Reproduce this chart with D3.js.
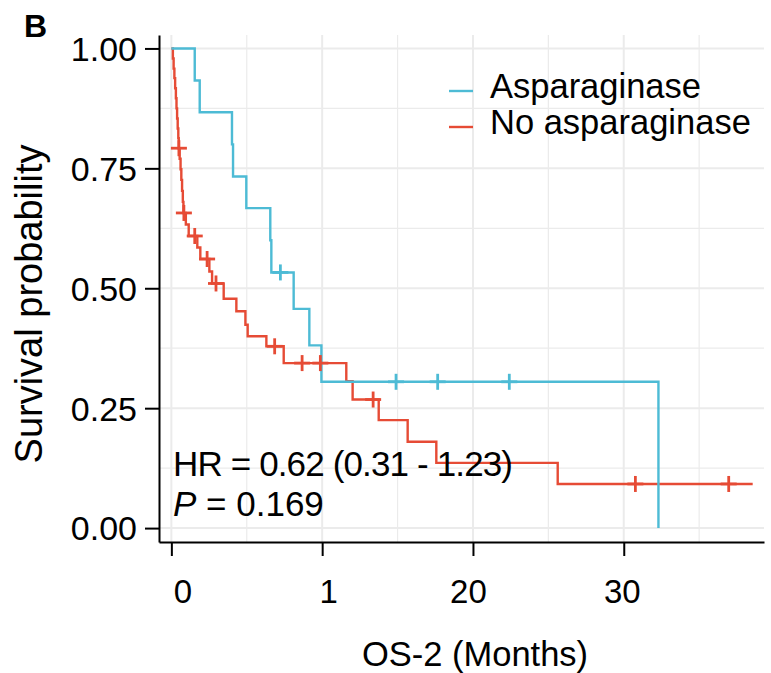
<!DOCTYPE html>
<html>
<head>
<meta charset="utf-8">
<script src="https://cdn.jsdelivr.net/npm/d3@7"></script>
<style>
  body { margin: 0; background: #fff; }
  svg text { font-family: "Liberation Sans", Arial, sans-serif; fill: #000; }
</style>
</head>
<body>
<svg id="chart" width="771" height="673"></svg>
<script>
// Asparaginase: step points (time in months, survival)
const asnTime = [0, 1.55, 1.88, 4.02, 4.09, 4.97, 6.56, 6.63, 8.11, 9.15, 9.95, 32.3];
const asnSurv = [1, 0.933, 0.867, 0.8, 0.733, 0.667, 0.6, 0.533, 0.457, 0.381, 0.305, 0];
const asnCensorTime = [7.23, 14.9, 17.66, 22.41];
const asnCensorSurv = [0.533, 0.305, 0.305, 0.305];

// No asparaginase
const noTime = [0, 0.10, 0.15, 0.20, 0.25, 0.30, 0.34, 0.38, 0.42, 0.46, 0.49,
  0.55, 0.61, 0.66, 0.71, 0.76, 0.80, 0.96, 1.15, 1.72, 1.92, 2.52, 2.70,
  3.47, 4.31, 4.91, 5.06, 6.30, 7.45, 11.6, 12.02, 13.75, 15.67, 17.57, 25.62, 38.55];
const noSurv = [1, 0.979, 0.958, 0.938, 0.917, 0.896, 0.875, 0.854, 0.833, 0.813, 0.792,
  0.770, 0.748, 0.726, 0.703, 0.680, 0.657, 0.633, 0.609, 0.585, 0.561, 0.535, 0.510,
  0.478, 0.452, 0.424, 0.400, 0.379, 0.344, 0.306, 0.268, 0.225, 0.180, 0.136, 0.092, 0.092];
const noCensorTime = [0.50, 0.83, 1.55, 2.37, 2.96, 6.85, 8.67, 9.88, 13.38, 30.77, 36.96];
const noCensorSurv = [0.792, 0.657, 0.609, 0.561, 0.510, 0.379, 0.344, 0.344, 0.268, 0.092, 0.092];

const groups = ["Asparaginase", "No asparaginase"];
const xTicks = [0, 10, 20, 30];
const xTickLabels = ["0", "1", "20", "30"];
const yTicks = [0, 0.25, 0.5, 0.75, 1];

const blue = "#4DBBD5", red = "#E64B35";

const svg = d3.select("#chart");
const panel = { left: 159, right: 764, top: 35, bottom: 542 };

const x = d3.scaleLinear().domain([-0.82, 39.3]).range([panel.left, panel.right]);
const y = d3.scaleLinear().domain([-0.029, 1.028]).range([panel.bottom, panel.top]);

// grid
const grid = svg.append("g").attr("stroke", "#EBEBEB");
d3.range(5, 40, 10).forEach(t => grid.append("line")
  .attr("x1", x(t)).attr("x2", x(t)).attr("y1", panel.top).attr("y2", panel.bottom)
  .attr("stroke-width", 1.2));
d3.range(0.125, 1, 0.25).forEach(s => grid.append("line")
  .attr("x1", panel.left).attr("x2", panel.right).attr("y1", y(s)).attr("y2", y(s))
  .attr("stroke-width", 1.2));
xTicks.forEach(t => grid.append("line")
  .attr("x1", x(t)).attr("x2", x(t)).attr("y1", panel.top).attr("y2", panel.bottom)
  .attr("stroke-width", 2));
yTicks.forEach(s => grid.append("line")
  .attr("x1", panel.left).attr("x2", panel.right).attr("y1", y(s)).attr("y2", y(s))
  .attr("stroke-width", 2));

// curves
const step = d3.line().x(d => x(d[0])).y(d => y(d[1])).curve(d3.curveStepAfter);
const curves = [
  { color: red, pts: d3.zip(noTime, noSurv) },
  { color: blue, pts: d3.zip(asnTime, asnSurv) }
];
curves.forEach(c => svg.append("path")
  .attr("d", step(c.pts))
  .attr("fill", "none")
  .attr("stroke", c.color)
  .attr("stroke-width", 2.4));

// censor marks
const censors = [
  { color: red, pts: d3.zip(noCensorTime, noCensorSurv) },
  { color: blue, pts: d3.zip(asnCensorTime, asnCensorSurv) }
];
censors.forEach(c => {
  const g = svg.append("g").attr("stroke", c.color).attr("stroke-width", 2.8);
  c.pts.forEach(p => {
    g.append("line").attr("x1", x(p[0]) - 8).attr("x2", x(p[0]) + 8)
      .attr("y1", y(p[1])).attr("y2", y(p[1]));
    g.append("line").attr("x1", x(p[0])).attr("x2", x(p[0]))
      .attr("y1", y(p[1]) - 8).attr("y2", y(p[1]) + 8);
  });
});

// axes
const yAxis = svg.append("g")
  .attr("transform", `translate(${panel.left},0)`)
  .call(d3.axisLeft(y).tickValues(yTicks).tickSize(14).tickSizeOuter(0)
    .tickPadding(8).tickFormat(d3.format(".2f")));
yAxis.selectAll("text").attr("font-size", 34).attr("dy", "0.35em");

const xAxis = svg.append("g")
  .attr("transform", `translate(0,${panel.bottom})`)
  .call(d3.axisBottom(x).tickValues(xTicks).tickSize(14).tickSizeOuter(0)
    .tickPadding(24).tickFormat((d, i) => xTickLabels[i]));
xAxis.selectAll("text").attr("font-size", 33).attr("dx", (d, i) => [11, 6, -5, -2][i]);

[yAxis, xAxis].forEach(a => {
  a.attr("font-family", null);
  a.selectAll("path, line").attr("stroke", "#000").attr("stroke-width", 2);
});

// axis titles
svg.append("text")
  .attr("transform", "translate(42,304) rotate(-90)")
  .attr("text-anchor", "middle")
  .attr("font-size", 38)
  .text("Survival probability");

svg.append("text")
  .attr("x", 475).attr("y", 666)
  .attr("text-anchor", "middle")
  .attr("font-size", 34.5)
  .text("OS-2 (Months)");

svg.append("text")
  .attr("x", 24).attr("y", 37)
  .attr("font-weight", "bold")
  .style("font-size", "32px")
  .text("B");

// legend
const legend = svg.append("g");
groups.forEach((name, i) => {
  const ly = 91 + i * 36;
  legend.append("line").attr("x1", 449).attr("x2", 473).attr("y1", ly).attr("y2", ly)
    .attr("stroke", i === 0 ? blue : red).attr("stroke-width", 2.4);
  legend.append("text").attr("x", 490).attr("y", ly + 7)
    .attr("font-size", 34.5).text(name);
});

// annotation
svg.append("text").attr("x", 173).attr("y", 476).attr("font-size", 35)
  .attr("textLength", 340).attr("lengthAdjust", "spacing")
  .text("HR = 0.62 (0.31 - 1.23)");
const ptxt = svg.append("text").attr("x", 173).attr("y", 516).attr("font-size", 35);
ptxt.append("tspan").attr("font-style", "italic").text("P");
ptxt.append("tspan").text(" = 0.169");
</script>
</body>
</html>
